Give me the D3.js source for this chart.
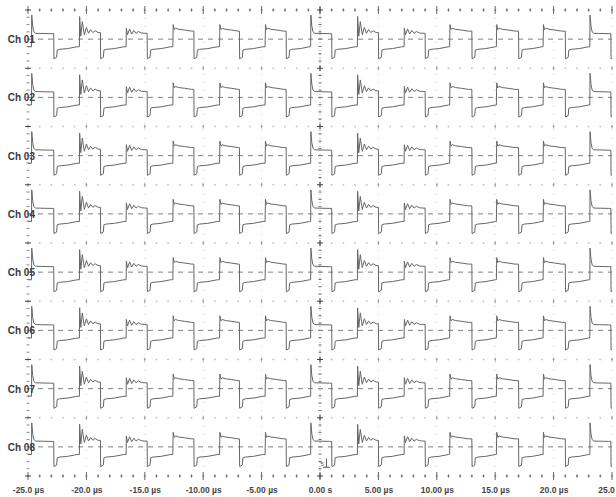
<!DOCTYPE html>
<html>
<head>
<meta charset="utf-8">
<script src="https://cdn.jsdelivr.net/npm/d3@7"></script>
<style>
  body { margin: 0; background: #fff; }
  svg { display: block; font-family: Arial, "Liberation Sans", sans-serif; }
</style>
</head>
<body>
<script>
let w = 616;
let h = 497;

// channel names (all 8 show the same waveform)
let channels = ["Ch 01", "Ch 02", "Ch 03", "Ch 04", "Ch 05", "Ch 06", "Ch 07", "Ch 08"];

// time axis, µs
let majorTicks = [-25, -20, -15, -10, -5, 0, 5, 10, 15, 20, 25];
let tickLabels = ["-25.0 µs", "-20.0 µs", "-15.0 µs", "-10.00 µs", "-5.00 µs", "0.00 s",
  "5.00 µs", "10.00 µs", "15.0 µs", "20.0 µs", "25.0 µs"];
let minorTicks = [-25, -24, -23, -22, -21, -20, -19, -18, -17, -16, -15, -14, -13, -12, -11,
  -10, -9, -8, -7, -6, -5, -4, -3, -2, -1, 0, 1, 2, 3, 4, 5, 6, 7, 8, 9, 10, 11, 12, 13, 14,
  15, 16, 17, 18, 19, 20, 21, 22, 23, 24, 25];
let divTicks = [-3, -2, -1, 0, 1, 2, 3];   // vertical divisions inside a lane

// edges (µs)
let risingTimes  = [-24.7, -20.6, -16.6, -12.6, -8.6, -4.7, -0.8, 3.2, 7.2, 11.1, 15.1, 19.1, 23.1];
let fallingTimes = [-22.8, -18.8, -14.8, -10.8, -6.9, -2.9, 1.0, 5.0, 9.0, 13.0, 17.0, 21.0, 24.9];
let risingKinds  = ["A", "B", "C", "D", "D", "D", "A", "B", "C", "D", "D", "D", "A"];

// rising edge shapes: [µs after edge, level in divisions]
let shapeA = [[0, -1.05], [0.02, 3.3], [0.1, 1.8], [0.2, 1.0], [0.35, 0.8], [1.6, 0.75]];
let shapeB = [[0, -1.05], [0.02, 3.1], [0.12, 0.4], [0.25, 2.4], [0.42, 0.6], [0.6, 1.6],
  [0.78, 0.8], [0.96, 1.3], [1.15, 0.9], [1.35, 1.15], [1.6, 0.9]];
let shapeC = [[0, -1.05], [0.02, 1.5], [0.12, 0.6], [0.3, 1.4], [0.48, 0.7], [0.66, 1.2],
  [0.85, 0.8], [1.05, 1.05], [1.3, 0.85], [1.6, 0.8]];
let shapeD = [[0, -1.05], [0.03, 2.0], [0.12, 1.3], [0.22, 1.5], [0.5, 1.35], [1.0, 1.25], [1.6, 1.1]];
let shapes = { A: shapeA, B: shapeB, C: shapeC, D: shapeD };
// falling edge shape
let fallShape = [[0.02, -2.7], [0.25, -2.5], [0.3, -1.5], [0.5, -1.4], [1.2, -1.3], [2.0, -1.05]];

// build one trace from the edges
let trace = [[-25, -1.05]];
risingTimes.forEach((r, i) => {
  trace.push([r, -1.05]);
  shapes[risingKinds[i]].forEach(p => trace.push([r + p[0], p[1]]));
  let f = fallingTimes[i];
  let hi = trace[trace.length - 1][1];
  trace.push([f, hi]);
  fallShape.forEach(p => trace.push([f + p[0], p[1]]));
});

let svg = d3.select("body")
  .append("svg")
  .attr("width", w)
  .attr("height", h);

let x = d3.scaleLinear().domain([-25, 25]).range([28, 612]);
let lane = d3.scaleBand().domain(channels).range([10, 476]);
let laneH = lane.bandwidth();
let yv = d3.scaleLinear().domain([-4, 4]).range([laneH, 0]);
let rows = channels.map(c => lane(c)).concat([lane.range()[1]]);

svg.append("clipPath").attr("id", "plot")
  .append("rect")
  .attr("x", x(-25)).attr("y", 0)
  .attr("width", x(25) - x(-25)).attr("height", h);

let grid = svg.append("g");

// faint vertical dotted lines at the major divisions
grid.selectAll("line.vg")
  .data(majorTicks.filter(d => d !== 0 && d !== -25))
  .enter().append("line")
  .attr("x1", d => x(d)).attr("x2", d => x(d))
  .attr("y1", rows[0]).attr("y2", rows[8])
  .attr("stroke", "#d6d6d6")
  .attr("stroke-dasharray", "1,7");

// separator rows: small crosses every µs
rows.forEach((ry, ri) => {
  let g = grid.append("g").attr("transform", `translate(0,${ry})`);
  let edge = ri === 0 || ri === 8;
  g.selectAll("path")
    .data(minorTicks)
    .enter().append("path")
    .attr("d", d => {
      let cx = x(d);
      let major = majorTicks.includes(d);
      let hv = edge ? (major ? 4 : 1.5) : (major ? 2 : 1);
      return `M${cx - 1},0H${cx + 1}M${cx},${-hv}V${hv}`;
    })
    .attr("stroke", d => edge ? "#666" : (majorTicks.includes(d) ? "#a0a0a0" : "#c8c8c8"))
    .attr("stroke-width", 1);
});

// left and centre axes: small ticks every division
channels.forEach(c => {
  let g = grid.append("g").attr("transform", `translate(0,${lane(c)})`);
  [x(-25), x(0)].forEach(ax => {
    g.selectAll(null)
      .data(divTicks)
      .enter().append("line")
      .attr("x1", ax - 1.5).attr("x2", ax + 1.5)
      .attr("y1", d => yv(d)).attr("y2", d => yv(d))
      .attr("stroke", ax === x(0) ? "#666" : "#888");
  });
});
grid.append("line")
  .attr("x1", x(0)).attr("x2", x(0))
  .attr("y1", rows[0]).attr("y2", rows[8])
  .attr("stroke", "#a0a0a0")
  .attr("stroke-dasharray", "1,3");
rows.forEach(ry => {
  grid.append("path")
    .attr("d", `M${x(0) - 3},${ry}H${x(0) + 3}M${x(0)},${ry - 3}V${ry + 3}`)
    .attr("stroke", "#444");
  grid.append("path")
    .attr("d", `M${x(-25) - 3},${ry}H${x(-25) + 3}`)
    .attr("stroke", "#444");
});

// channel lanes
let line = d3.line()
  .x(d => x(d[0]))
  .y(d => yv(d[1]));

let lanes = svg.selectAll("g.lane")
  .data(channels)
  .enter().append("g")
  .attr("class", "lane")
  .attr("transform", d => `translate(0,${lane(d)})`);

lanes.append("line")
  .attr("x1", x(-25)).attr("x2", x(25))
  .attr("y1", yv(0)).attr("y2", yv(0))
  .attr("stroke", "#808080")
  .attr("stroke-dasharray", "5,5");

lanes.append("path")
  .datum(trace)
  .attr("d", line)
  .attr("clip-path", "url(#plot)")
  .attr("fill", "none")
  .attr("stroke", "#666")
  .attr("stroke-width", 1);

lanes.append("text")
  .text(d => d)
  .attr("x", 35)
  .attr("y", yv(0) + 4)
  .attr("text-anchor", "end")
  .attr("font-size", "10px")
  .attr("font-weight", "bold")
  .attr("fill", "#3a3a3a");

// trigger marker on the last channel
let last = svg.append("g")
  .attr("transform", `translate(0,${lane(channels[7])})`);
last.append("path")
  .attr("d", `M${x(0.55)},${yv(-1.6)}V${yv(-2.8)}M${x(0.25)},${yv(-2.8)}H${x(0.85)}`)
  .attr("stroke", "#555");
last.append("text")
  .text("5")
  .attr("x", x(0.05))
  .attr("y", yv(-2.6))
  .attr("font-size", "6px")
  .attr("fill", "#555");

// bottom time axis
let axis = svg.append("g")
  .attr("transform", `translate(0,${rows[8]})`)
  .call(d3.axisBottom(x)
    .tickValues(majorTicks)
    .tickSize(0)
    .tickPadding(11)
    .tickFormat((d, i) => tickLabels[i]));
axis.select(".domain").remove();
axis.selectAll("text")
  .attr("font-size", "8.5px")
  .attr("font-family", "Arial, 'Liberation Sans', sans-serif")
  .attr("font-weight", "bold")
  .attr("fill", "#444");
</script>
</body>
</html>
